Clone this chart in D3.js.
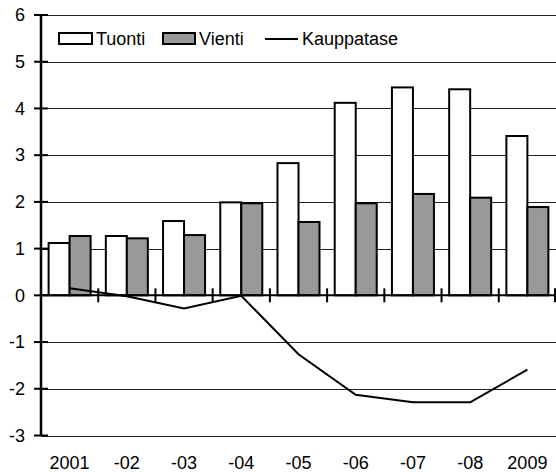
<!DOCTYPE html>
<html>
<head>
<meta charset="utf-8">
<script src="https://cdn.jsdelivr.net/npm/d3@7"></script>
<style>
body{margin:0;background:#fff;}
svg{display:block;font-family:"Liberation Sans",Arial,sans-serif;}
</style>
</head>
<body>
<svg id="chart" width="556" height="472"></svg>
<script>
var years = ["2001","-02","-03","-04","-05","-06","-07","-08","2009"];
var tuonti = [1.12, 1.27, 1.59, 1.99, 2.83, 4.12, 4.45, 4.41, 3.41];
var vienti = [1.27, 1.22, 1.29, 1.97, 1.57, 1.97, 2.17, 2.09, 1.89];
var kauppatase = [0.15, -0.02, -0.28, -0.01, -1.26, -2.13, -2.29, -2.29, -1.59];
var yTicks = [-3,-2,-1,0,1,2,3,4,5,6];

var svg = d3.select("#chart");
var plotL = 41, plotR = 556, plotT = 15, plotB = 435.5;
var fs = "18px";

var x = d3.scaleBand().domain(years).range([plotL, plotR]).paddingInner(0).paddingOuter(0);
var y = d3.scaleLinear().domain([-3, 6]).range([plotB, plotT]);
var bw = x.bandwidth();
var barW = 21, pad = (bw - 2*barW)/2;

// gridlines
svg.selectAll(".grid").data(yTicks).enter().append("line")
    .attr("x1", plotL).attr("x2", plotR)
    .attr("y1", function(d){return Math.round(y(d))+0.5;})
    .attr("y2", function(d){return Math.round(y(d))+0.5;})
    .attr("stroke", "#222").attr("stroke-width", 1);

// bars
svg.selectAll(".tuonti").data(years).enter().append("rect")
    .attr("x", function(d){return x(d)+pad;})
    .attr("y", function(d,i){return y(tuonti[i]);})
    .attr("width", barW)
    .attr("height", function(d,i){return y(0)-y(tuonti[i]);})
    .attr("fill", "#fff").attr("stroke", "#000").attr("stroke-width", 2);
svg.selectAll(".vienti").data(years).enter().append("rect")
    .attr("x", function(d){return x(d)+pad+barW;})
    .attr("y", function(d,i){return y(vienti[i]);})
    .attr("width", barW)
    .attr("height", function(d,i){return y(0)-y(vienti[i]);})
    .attr("fill", "#999").attr("stroke", "#000").attr("stroke-width", 2);

// zero axis line
svg.append("line").attr("x1", plotL).attr("x2", plotR)
    .attr("y1", y(0)).attr("y2", y(0))
    .attr("stroke", "#000").attr("stroke-width", 2);
// x ticks at band boundaries
svg.selectAll(".xtick").data(years).enter().append("line")
    .attr("x1", function(d){return Math.min(x(d) + bw, plotR - 1);})
    .attr("x2", function(d){return Math.min(x(d) + bw, plotR - 1);})
    .attr("y1", y(0)-7).attr("y2", y(0)+7)
    .attr("stroke", "#000").attr("stroke-width", 2);

// line
var line = d3.line()
    .x(function(d,i){return x(years[i]) + bw/2;})
    .y(function(d){return y(d);});
svg.append("path").datum(kauppatase)
    .attr("d", line).attr("fill", "none")
    .attr("stroke", "#000").attr("stroke-width", 2);

// y axis
svg.append("line").attr("x1", plotL).attr("x2", plotL)
    .attr("y1", plotT).attr("y2", plotB)
    .attr("stroke", "#000").attr("stroke-width", 2.5);
svg.selectAll(".ytick").data(yTicks).enter().append("line")
    .attr("x1", plotL-7).attr("x2", plotL+7)
    .attr("y1", function(d){return y(d);}).attr("y2", function(d){return y(d);})
    .attr("stroke", "#000").attr("stroke-width", 2);
svg.selectAll(".ylab").data(yTicks).enter().append("text")
    .attr("x", 25).attr("y", function(d){return y(d);})
    .attr("dy", "0.35em").attr("text-anchor", "end")
    .attr("font-size", fs).text(function(d){return d;});

// x labels
svg.selectAll(".xlab").data(years).enter().append("text")
    .attr("x", function(d){return x(d) + bw/2;})
    .attr("y", 469).attr("text-anchor", "middle")
    .attr("font-size", fs).text(function(d){return d;});

// legend
var lg = svg.append("g");
lg.append("rect").attr("x", 59).attr("y", 33).attr("width", 33).attr("height", 11)
    .attr("fill", "#fff").attr("stroke", "#000").attr("stroke-width", 2);
lg.append("text").attr("x", 96).attr("y", 45).attr("font-size", fs).text("Tuonti");
lg.append("rect").attr("x", 163).attr("y", 33).attr("width", 32).attr("height", 11)
    .attr("fill", "#999").attr("stroke", "#000").attr("stroke-width", 2);
lg.append("text").attr("x", 199).attr("y", 45).attr("font-size", fs).text("Vienti");
lg.append("line").attr("x1", 265).attr("x2", 298).attr("y1", 39).attr("y2", 39)
    .attr("stroke", "#000").attr("stroke-width", 2);
lg.append("text").attr("x", 302).attr("y", 45).attr("font-size", fs).text("Kauppatase");
</script>
</body>
</html>
